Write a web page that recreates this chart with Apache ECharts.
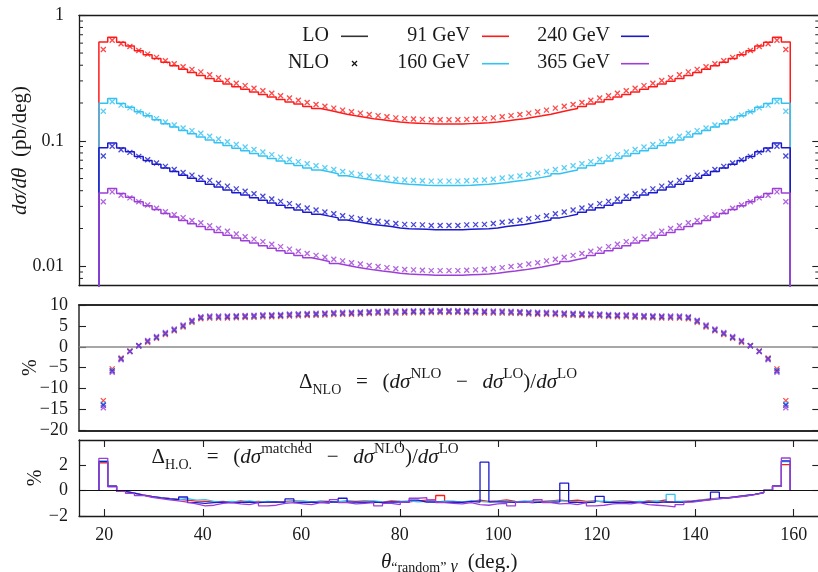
<!DOCTYPE html>
<html><head><meta charset="utf-8">
<script src="https://cdn.jsdelivr.net/npm/echarts@6/dist/echarts.min.js"></script>
<style>html,body{margin:0;padding:0;background:#fff}#c{width:818px;height:572px}</style>
</head><body><div id="c"></div>
<script>
// ---- binning (theta, degrees) ----
const binStart = 18.9, binWidth = 1.8;
const energies = ['91 GeV', '160 GeV', '240 GeV', '365 GeV'];
const colors = ['#ff1a1a', '#33c2f2', '#1a1acc', '#9d3fd6'];

// ---- LO dsigma/dtheta (pb/deg) ----
const lo91 = [0.613,0.668,0.609,0.569,0.522,0.485,0.453,0.422,0.396,0.371,
 0.350,0.332,0.314,0.298,0.283,0.269,0.257,0.245,0.234,0.223,
 0.213,0.204,0.196,0.188,0.181,0.175,0.169,0.163,0.158,0.154,
 0.150,0.147,0.144,0.141,0.139,0.138,0.137,0.136,0.136,0.136,
 0.136,0.137,0.138,0.139,0.141,0.144,0.147,0.150,0.154,0.158,
 0.163,0.169,0.175,0.181,0.188,0.196,0.204,0.213,0.223,0.234,
 0.245,0.257,0.269,0.283,0.298,0.314,0.332,0.350,0.371,0.396,
 0.422,0.453,0.485,0.522,0.569,0.609,0.668,0.613];
const lo160 = [0.199,0.217,0.198,0.185,0.170,0.158,0.147,0.137,0.1285,0.1205,
 0.1136,0.1074,0.1016,0.0964,0.0916,0.0870,0.0832,0.0793,0.0757,0.0722,
 0.0689,0.0660,0.0634,0.0608,0.0586,0.0566,0.0547,0.0527,0.0511,0.0498,
 0.0485,0.0476,0.0466,0.0456,0.0450,0.0447,0.0443,0.0440,0.0440,
 0.0440,0.0440,0.0443,0.0447,0.0450,0.0456,0.0466,0.0476,0.0485,0.0498,
 0.0511,0.0527,0.0547,0.0566,0.0586,0.0608,0.0634,0.0660,0.0689,0.0722,
 0.0757,0.0793,0.0832,0.0870,0.0916,0.0964,0.1016,0.1074,0.1136,0.1205,
 0.1285,0.137,0.147,0.158,0.170,0.185,0.198,0.217,0.199];
const lo240 = [0.0880,0.0959,0.0874,0.0817,0.0749,0.0696,0.0650,0.0606,0.0568,0.0532,
 0.0502,0.0476,0.0451,0.0428,0.0406,0.0386,0.0369,0.0352,0.0336,0.0320,
 0.0306,0.0293,0.0281,0.0270,0.0260,0.0251,0.0243,0.0234,0.0227,0.0221,
 0.0215,0.0211,0.0207,0.0202,0.0199,0.0198,0.0197,0.0195,0.0195,
 0.0195,0.0195,0.0197,0.0198,0.0199,0.0202,0.0207,0.0211,0.0215,0.0221,
 0.0227,0.0234,0.0243,0.0251,0.0260,0.0270,0.0281,0.0293,0.0306,0.0320,
 0.0336,0.0352,0.0369,0.0386,0.0406,0.0428,0.0451,0.0476,0.0502,0.0532,
 0.0568,0.0606,0.0650,0.0696,0.0749,0.0817,0.0874,0.0959,0.0880];
const lo365 = [0.0383,0.0417,0.0380,0.0355,0.0326,0.0303,0.0283,0.0263,0.0247,0.0232,
 0.0218,0.0207,0.0196,0.0186,0.0177,0.0168,0.0160,0.0153,0.0146,0.0139,
 0.0133,0.0127,0.0122,0.0117,0.0113,0.0109,0.0105,0.0102,0.00986,0.00961,
 0.00936,0.00917,0.00899,0.00880,0.00867,0.00861,0.00855,0.00849,0.00849,
 0.00849,0.00849,0.00855,0.00861,0.00867,0.00880,0.00899,0.00917,0.00936,0.00961,
 0.00986,0.0102,0.0105,0.0109,0.0113,0.0117,0.0122,0.0127,0.0133,0.0139,
 0.0146,0.0153,0.0160,0.0168,0.0177,0.0186,0.0196,0.0207,0.0218,0.0232,
 0.0247,0.0263,0.0283,0.0303,0.0326,0.0355,0.0380,0.0417,0.0383];

// ---- Delta_NLO (%) ----
const dnlo91 = [-12.9,-5.3,-2.7,-1.0,0.3,1.1,2.0,2.95,3.8,4.75,
 5.85,6.7,6.85,6.85,6.9,6.95,7.0,7.05,7.15,7.2,
 7.25,7.35,7.4,7.5,7.55,7.6,7.7,7.75,7.8,7.85,
 7.95,8.0,8.05,8.05,8.1,8.15,8.15,8.2,8.2,
 8.2,8.2,8.15,8.15,8.1,8.05,8.05,8.0,7.95,7.85,
 7.8,7.75,7.7,7.6,7.55,7.5,7.4,7.35,7.25,7.2,
 7.15,7.05,7.0,6.95,6.9,6.85,6.85,6.7,5.85,4.75,
 3.8,2.95,2.0,1.1,0.3,-1.0,-2.7,-5.3,-12.9];
const dnlo160 = [-13.7,-5.7,-2.9,-1.1,0.25,1.3,2.2,3.15,4.0,4.95,
 6.1,6.95,7.1,7.1,7.15,7.2,7.25,7.3,7.4,7.45,
 7.5,7.6,7.65,7.75,7.8,7.85,7.95,8.0,8.05,8.1,
 8.2,8.25,8.3,8.3,8.35,8.4,8.4,8.45,8.45,
 8.45,8.45,8.4,8.4,8.35,8.3,8.3,8.25,8.2,8.1,
 8.05,8.0,7.95,7.85,7.8,7.75,7.65,7.6,7.5,7.45,
 7.4,7.3,7.25,7.2,7.15,7.1,7.1,6.95,6.1,4.95,
 4.0,3.15,2.2,1.3,0.25,-1.1,-2.9,-5.7,-13.7];
const dnlo240 = [-14.0,-5.8,-2.9,-1.1,0.25,1.35,2.25,3.2,4.05,5.0,
 6.15,7.0,7.15,7.15,7.2,7.25,7.3,7.35,7.45,7.5,
 7.55,7.65,7.7,7.8,7.85,7.9,8.0,8.05,8.1,8.15,
 8.25,8.3,8.35,8.35,8.4,8.45,8.45,8.5,8.5,
 8.5,8.5,8.45,8.45,8.4,8.35,8.35,8.3,8.25,8.15,
 8.1,8.05,8.0,7.9,7.85,7.8,7.7,7.65,7.55,7.5,
 7.45,7.35,7.3,7.25,7.2,7.15,7.15,7.0,6.15,5.0,
 4.05,3.2,2.25,1.35,0.25,-1.1,-2.9,-5.8,-14.0];
const dnlo365 = [-14.6,-6.1,-3.1,-1.2,0.2,1.5,2.45,3.4,4.25,5.2,
 6.35,7.2,7.35,7.35,7.4,7.45,7.5,7.55,7.65,7.7,
 7.75,7.85,7.9,8.0,8.05,8.1,8.2,8.25,8.3,8.35,
 8.45,8.5,8.55,8.55,8.6,8.65,8.65,8.7,8.7,
 8.7,8.7,8.65,8.65,8.6,8.55,8.55,8.5,8.45,8.35,
 8.3,8.25,8.2,8.1,8.05,8.0,7.9,7.85,7.75,7.7,
 7.65,7.55,7.5,7.45,7.4,7.35,7.35,7.2,6.35,5.2,
 4.25,3.4,2.45,1.5,0.2,-1.2,-3.1,-6.1,-14.6];

// ---- Delta_H.O. (%) ----
const dho91 = [2.2,0.35,-0.05,-0.2,-0.33,-0.45,-0.55,-0.62,-0.68,-0.75,
 -0.82,-0.85,-0.88,-0.85,-0.9,-0.8,-0.88,-0.85,-0.9,-0.92,
 -0.85,-0.8,-0.85,-0.9,-0.82,-0.85,-0.9,-0.8,-0.85,-0.8,
 -0.85,-0.9,-0.8,-0.85,-0.88,-0.8,-0.75,-0.7,-0.38,-0.85,
 -0.9,-0.85,-0.75,-0.85,-0.8,-0.72,-0.85,-0.9,-0.8,-0.85,
 -0.8,-0.75,-0.8,-0.75,-0.85,-0.8,-0.9,-0.85,-0.8,-0.85,
 -0.9,-0.8,-0.85,-0.72,-0.9,-0.85,-0.8,-0.72,-0.65,-0.6,
 -0.55,-0.47,-0.38,-0.3,-0.15,0.04,0.38,2.05];
const dho160 = [2.35,0.35,-0.05,-0.2,-0.35,-0.47,-0.56,-0.63,-0.7,-0.62,
 -0.75,-0.7,-0.85,-0.9,-0.85,-0.88,-0.8,-0.9,-0.85,-0.88,
 -0.9,-0.85,-0.8,-0.88,-0.85,-0.9,-0.85,-0.82,-0.9,-0.85,
 -0.8,-0.88,-0.9,-0.85,-0.8,-0.88,-0.85,-0.9,-0.82,-0.85,
 -0.88,-0.8,-0.85,-0.9,-0.82,-0.85,-0.88,-0.8,-0.85,-0.9,
 -0.85,-0.8,-0.85,-0.88,-0.9,-0.85,-0.82,-0.88,-0.85,-0.9,
 -0.85,-0.88,-0.82,-0.9,-0.3,-0.85,-0.82,-0.75,-0.68,-0.62,
 -0.55,-0.47,-0.38,-0.3,-0.15,0.04,0.36,2.3];
const dho240 = [2.3,0.35,-0.05,-0.2,-0.35,-0.48,-0.57,-0.65,-0.7,-0.5,
 -0.95,-1.0,-0.95,-0.9,-0.95,-0.92,-0.9,-0.95,-0.9,-0.88,
 -0.92,-0.65,-0.95,-0.9,-0.92,-0.88,-0.9,-0.6,-0.9,-0.92,
 -0.9,-0.95,-0.88,-0.9,-0.92,-0.75,-0.9,-0.88,-0.92,-0.9,
 -0.92,-0.85,-0.9,2.25,-0.88,-0.9,-0.92,-0.9,-0.95,-0.9,
 -0.92,-0.88,0.6,-0.92,-0.95,-0.9,-0.45,-0.92,-0.95,-0.9,
 -0.92,-0.9,-0.95,-0.88,-0.9,-0.92,-0.85,-0.78,-0.7,-0.12,
 -0.58,-0.48,-0.4,-0.3,-0.16,0.03,0.36,2.35];
const dho365 = [2.55,0.3,-0.05,-0.22,-0.38,-0.52,-0.62,-0.72,-0.8,-0.9,
 -1.05,-1.2,-1.15,-1.0,-0.95,-1.05,-1.1,-0.95,-1.2,-1.15,
 -1.0,-0.95,-1.05,-1.1,-0.95,-1.0,-0.7,-0.95,-1.05,-1.0,
 -0.95,-1.2,-1.0,-1.1,-0.9,-0.6,-0.55,-0.75,-0.95,-1.0,
 -1.05,-0.95,-1.1,-1.15,-1.05,-1.0,-1.2,-0.9,-0.95,-0.7,
 -0.95,-1.05,-1.0,-1.1,-0.95,-1.2,-1.15,-1.05,-1.0,-1.05,
 -0.95,-1.1,-1.15,-1.2,-1.28,-1.1,-0.9,-0.8,-0.72,-0.65,
 -0.57,-0.5,-0.42,-0.32,-0.18,0.02,0.34,2.58];

// ---- axis ranges / ticks ----
const xMin = 14.86, xMax = 165.2;
const yTopMin = 0.007, yTopMax = 1;
const minorTickValues = [0.008,0.009,0.02,0.03,0.04,0.05,0.06,0.07,0.08,0.09,0.2,0.3,0.4,0.5,0.6,0.7,0.8,0.9];

const loSets = [lo91, lo160, lo240, lo365];
const dnloSets = [dnlo91, dnlo160, dnlo240, dnlo365];
const dhoSets = [dho91, dho160, dho240, dho365];

const FONT = 'Liberation Serif';
const TXT = '#1a1a1a';
const crossPath = 'path://M0 0L10 10M10 0L0 10';

function stepData(vals, floor) {
  const pts = [[binStart, floor]];
  vals.forEach((v, i) => { const a = binStart + i * binWidth; pts.push([a, v], [a + binWidth, v]); });
  pts.push([binStart + vals.length * binWidth, floor]);
  return pts;
}
function pointData(vals) { return vals.map((v, i) => [binStart + (i + 0.5) * binWidth, v]); }
const minus = v => (v < 0 ? '\u2212' + (-v) : String(v));

// x axis indices: grid0 -> 0 & 1; grid1 -> 2 & 3; grid2 -> 4 (bottom, labels) & 5 (top)
// y axis indices: grid0 -> 0 (left) & 1 (right); grid1 -> 2 & 3; grid2 -> 4 & 5
const series = [];
loSets.forEach((lo, j) => {
  series.push({ name: energies[j] + ' LO', type: 'line', xAxisIndex: 0, yAxisIndex: 0,
    data: stepData(lo, 0.001), showSymbol: false, symbol: 'none',
    lineStyle: { color: colors[j], width: 1.5 }, itemStyle: { color: colors[j] }, z: 2 });
});
loSets.forEach((lo, j) => {
  const nlo = lo.map((v, i) => v * (1 + dnloSets[j][i] / 100));
  series.push({ name: energies[j] + ' NLO', type: 'scatter', xAxisIndex: 0, yAxisIndex: 0,
    data: pointData(nlo), symbol: crossPath, symbolSize: 5,
    itemStyle: { color: colors[j], borderColor: colors[j], borderWidth: 1.3 }, z: 3 });
});
dnloSets.forEach((d, j) => {
  const s = { name: energies[j] + ' ΔNLO', type: 'scatter', xAxisIndex: 2, yAxisIndex: 2,
    data: pointData(d), symbol: crossPath, symbolSize: 5,
    itemStyle: { color: colors[j], borderColor: colors[j], borderWidth: 1.3 }, z: 3 };
  if (j === 0) s.markLine = { silent: true, symbol: 'none', label: { show: false },
    lineStyle: { color: '#8a8a8a', width: 1.5, type: 'solid' }, data: [{ yAxis: 0 }], z: 1 };
  series.push(s);
});
dhoSets.forEach((d, j) => {
  const s = { name: energies[j] + ' ΔHO', type: 'line', xAxisIndex: 4, yAxisIndex: 4,
    data: stepData(d, 0), showSymbol: false, symbol: 'none',
    lineStyle: { color: colors[j], width: 1.3 }, itemStyle: { color: colors[j] }, z: 2 };
  if (j === 0) s.markLine = { silent: true, symbol: 'none', label: { show: false },
    lineStyle: { color: '#111', width: 1.2, type: 'solid' }, data: [{ yAxis: 0 }] };
  series.push(s);
});

const gridBase = { left: 79, width: 740.3, show: false, outerBoundsMode: 'none', containLabel: false };
const frame = (w, c) => ({ show: true, onZero: false, lineStyle: { color: c || '#1a1a1a', width: w } });
const noLine = { show: false, onZero: false };
const frameX = (g, pos, w, c) => ({ gridIndex: g, type: 'value', min: xMin, max: xMax, position: pos,
  axisLine: frame(w, c), axisTick: { show: false }, axisLabel: { show: false }, splitLine: { show: false } });
const tickStyle = { show: true, inside: true, length: 7, lineStyle: { color: '#222', width: 1.1 } };
const lblStyle = (m) => ({ fontFamily: FONT, fontSize: 18, color: TXT, margin: m });

const richAx = {
  n: { fontFamily: FONT, fontSize: 21, color: TXT },
  i: { fontFamily: FONT, fontSize: 21, fontStyle: 'italic', color: TXT },
  s: { fontFamily: FONT, fontSize: 14, color: TXT, lineHeight: 22, verticalAlign: 'bottom' },
  g: { fontFamily: FONT, fontSize: 17, fontStyle: 'italic', color: TXT, lineHeight: 22, verticalAlign: 'bottom' }
};

const option = {
  animation: false,
  backgroundColor: '#ffffff',
  grid: [
    Object.assign({}, gridBase, { top: 15.3, height: 270.4 }),
    Object.assign({}, gridBase, { top: 305, height: 125.3 }),
    Object.assign({}, gridBase, { top: 440, height: 76 })
  ],
  xAxis: [
    frameX(0, 'top', 1.3), frameX(0, 'bottom', 1.3),
    frameX(1, 'top', 2, '#2a2a2a'), frameX(1, 'bottom', 2, '#2a2a2a'),
    { gridIndex: 2, type: 'value', min: xMin, max: xMax, splitNumber: 7, position: 'bottom',
      axisLine: frame(1.3), axisTick: tickStyle, splitLine: { show: false },
      axisLabel: Object.assign(lblStyle(10), { showMinLabel: false, showMaxLabel: false }),
      name: '{i|θ}{s|“random”}{g| γ}{n|  (deg.)}', nameLocation: 'middle', nameGap: 33, nameMoveOverlap: false,
      nameTextStyle: { fontFamily: FONT, fontSize: 21, color: TXT, lineHeight: 26, rich: richAx } },
    { gridIndex: 2, type: 'value', min: xMin, max: xMax, splitNumber: 7, position: 'top',
      axisLine: frame(1.3), axisTick: tickStyle, axisLabel: { show: false }, splitLine: { show: false } }
  ],
  yAxis: [
    { gridIndex: 0, type: 'log', logBase: 10, min: yTopMin, max: yTopMax, position: 'left',
      axisLine: frame(1.3), axisTick: tickStyle, splitLine: { show: false }, minorTick: { show: false },
      axisLabel: Object.assign(lblStyle(15), { showMinLabel: false,
        formatter: v => String(Number(Number(v).toPrecision(2))) }),
      name: '{i|dσ/dθ}{n|  (pb/deg)}', nameLocation: 'middle', nameGap: 48, nameMoveOverlap: false,
      nameTextStyle: { fontFamily: FONT, fontSize: 21, color: TXT, rich: richAx } },
    { gridIndex: 0, type: 'log', logBase: 10, min: yTopMin, max: yTopMax, position: 'right',
      axisLine: noLine, axisTick: tickStyle, axisLabel: { show: false }, splitLine: { show: false } },
    { gridIndex: 1, type: 'value', min: -20, max: 10, interval: 5, position: 'left',
      axisLine: frame(1.5, '#2a2a2a'), axisTick: tickStyle, splitLine: { show: false },
      axisLabel: Object.assign(lblStyle(11), { formatter: minus }),
      name: '%', nameLocation: 'middle', nameGap: 38, nameMoveOverlap: false,
      nameTextStyle: { fontFamily: FONT, fontSize: 20, color: TXT } },
    { gridIndex: 1, type: 'value', min: -20, max: 10, interval: 5, position: 'right',
      axisLine: noLine, axisTick: tickStyle, axisLabel: { show: false }, splitLine: { show: false } },
    { gridIndex: 2, type: 'value', min: -2, max: 4, interval: 2, position: 'left',
      axisLine: frame(1.3), axisTick: tickStyle, splitLine: { show: false },
      axisLabel: Object.assign(lblStyle(11), { formatter: minus, showMaxLabel: false }),
      name: '%', nameLocation: 'middle', nameGap: 33, nameMoveOverlap: false,
      nameTextStyle: { fontFamily: FONT, fontSize: 20, color: TXT } },
    { gridIndex: 2, type: 'value', min: -2, max: 4, interval: 2, position: 'right',
      axisLine: noLine, axisTick: tickStyle, axisLabel: { show: false }, splitLine: { show: false } }
  ],
  series: series
};

const legendText = (txt, x, y) => ({ type: 'text', x: x, y: y, z: 100,
  style: { text: txt, fontFamily: FONT, fontSize: 20, fill: TXT, align: 'right', verticalAlign: 'middle' } });
const legendLine = (x1, x2, y, c) => ({ type: 'line', z: 100,
  shape: { x1: x1, y1: y, x2: x2, y2: y }, style: { stroke: c, lineWidth: 1.6 } });
const richAnn = {
  n: { fontFamily: FONT, fontSize: 21, color: TXT, lineHeight: 30 },
  i: { fontFamily: FONT, fontSize: 21, fontStyle: 'italic', color: TXT, lineHeight: 30 },
  sub: { fontFamily: FONT, fontSize: 14, color: TXT, lineHeight: 23, verticalAlign: 'bottom' },
  sup: { fontFamily: FONT, fontSize: 15, color: TXT, lineHeight: 20, verticalAlign: 'top' }
};
const annot = (txt, x, y) => ({ type: 'text', x: x, y: y, z: 100,
  style: { text: txt, rich: richAnn, fontFamily: FONT, fontSize: 21, fill: TXT, align: 'center', verticalAlign: 'middle' } });
const SP = '\u2002\u2009';

const textEls = [
  legendText('LO', 329, 36), legendLine(341, 368, 36.3, '#333'),
  legendText('NLO', 329, 63),
  { type: 'line', z: 100, shape: { x1: 352, y1: 61, x2: 357, y2: 66 }, style: { stroke: '#111', lineWidth: 1.3 } },
  { type: 'line', z: 100, shape: { x1: 357, y1: 61, x2: 352, y2: 66 }, style: { stroke: '#111', lineWidth: 1.3 } },
  legendText(energies[0], 470, 36), legendLine(482, 509, 36.3, colors[0]),
  legendText(energies[1], 470, 63), legendLine(482, 509, 63.7, colors[1]),
  legendText(energies[2], 610, 36), legendLine(621, 649, 36.3, colors[2]),
  legendText(energies[3], 610, 63), legendLine(621, 649, 63.7, colors[3]),
  annot('{n|Δ}{sub|NLO}{n|' + SP + '=' + SP + '(}{i|dσ}{sup|NLO}{n|' + SP + '−' + SP + '}{i|dσ}{sup|LO}{n|)/}{i|dσ}{sup|LO}', 438, 382),
  annot('{n|Δ}{sub|H.O.}{n|' + SP + '=' + SP + '(}{i|dσ}{sup|matched}{n|' + SP + '−' + SP + '}{i|dσ}{sup|NLO}{n|)/}{i|dσ}{sup|LO}', 305, 457)
];
option.graphic = { elements: textEls };

const chart = echarts.init(document.getElementById('c'), null, { renderer: 'canvas' });
chart.setOption(option);

// minor log ticks (2..9 per decade) placed through the top panel's own scale
try {
  const tickEls = [];
  minorTickValues.forEach(v => {
    const pl = chart.convertToPixel({ seriesIndex: 0 }, [xMin, v]);
    const pr = chart.convertToPixel({ seriesIndex: 0 }, [xMax, v]);
    const st = { stroke: '#222', lineWidth: 1 };
    tickEls.push({ type: 'line', z: 50, silent: true, shape: { x1: pl[0], y1: pl[1], x2: pl[0] + 4, y2: pl[1] }, style: st });
    tickEls.push({ type: 'line', z: 50, silent: true, shape: { x1: pr[0] - 4, y1: pr[1], x2: pr[0], y2: pr[1] }, style: st });
  });
  chart.setOption({ graphic: { elements: textEls.concat(tickEls) } });
} catch (e) {}
</script>
</body></html>
